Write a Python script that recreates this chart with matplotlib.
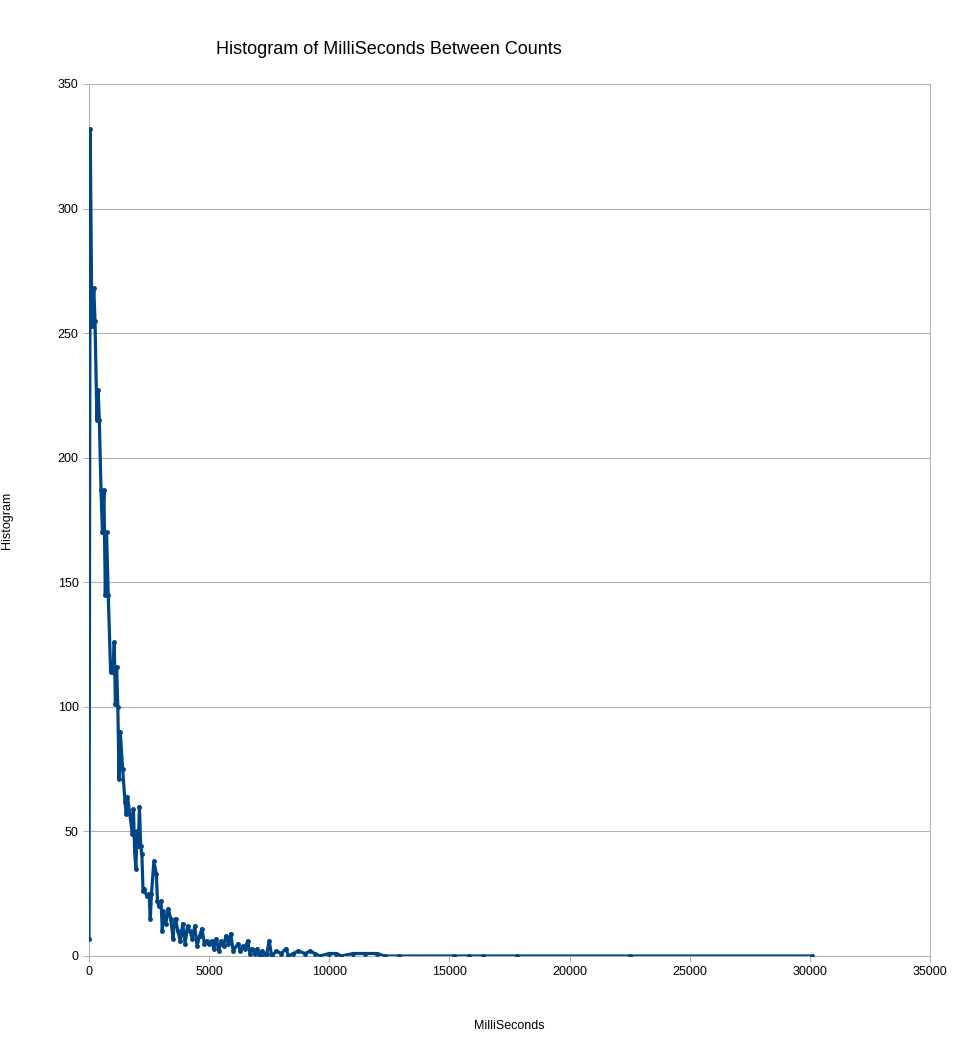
import matplotlib
matplotlib.use("Agg")
import matplotlib.pyplot as plt

ms = [0,50,120,200,250,330,380,430,500,560,620,680,730,800,900,1000,1050,1100,1150,1200,1250,1300,1400,1500,1550,1600,1700,1800,1850,1900,1950,2000,2050,2100,2150,2200,2250,2300,2400,2500,2550,2600,2700,2800,2850,2900,3000,3050,3100,3200,3300,3400,3500,3550,3600,3700,3800,3900,4000,4100,4200,4300,4400,4500,4600,4700,4800,4900,5000,5100,5200,5300,5400,5500,5600,5700,5800,5900,6000,6200,6300,6400,6500,6600,6700,6800,6900,7000,7100,7200,7300,7400,7500,7600,7800,8000,8200,8300,8500,8700,9000,9200,9400,9600,10000,10300,10500,11000,11500,12000,12300,12900,15200,15800,16400,17800,22500,30100]
counts = [7,332,253,268,255,215,227,215,187,170,187,145,170,145,114,114,126,101,116,100,71,90,75,62,57,64,57,49,59,42,35,50,44,60,44,41,26,27,24,25,15,25,38,33,22,20,22,10,18,13,19,15,7,13,15,10,6,13,5,12,10,7,12,4,8,11,5,6,5,6,3,7,2,6,4,8,5,9,2,5,2,4,3,6,1,3,1,3,0,2,1,1,6,0,2,1,3,0,1,2,1,2,1,0,1,1,0,1,1,1,0,0,0,0,0,0,0,0]

fig = plt.figure(figsize=(9.67, 10.39), dpi=100)
ax = fig.add_axes([89/967, 1-956/1039, (930-89)/967, (956-84)/1039])
ax.plot(ms, counts, color="#004586", lw=2.3, marker="o", ms=2.5, zorder=3)
ax.set_xlim(0, 35000)
ax.set_ylim(0, 350)
ax.set_xticks(range(0, 35001, 5000))
ax.set_yticks(range(0, 351, 50))
ax.grid(axis="y", color="#b3b3b3", lw=0.8)
for s in ax.spines.values():
    s.set_color("#b3b3b3")
ax.tick_params(colors="#b3b3b3", labelcolor="black", labelsize=9, length=4)
ax.set_xlabel("MilliSeconds", fontsize=9, labelpad=30, fontfamily="Liberation Sans")
ax.set_ylabel("Histogram", fontsize=9, labelpad=32, fontfamily="Liberation Sans")
for lab in ax.get_xticklabels() + ax.get_yticklabels():
    lab.set_fontfamily("Liberation Sans")
fig.text(389/967, 1-50/1039, "Histogram of MilliSeconds Between Counts", ha="center", va="center",
         fontsize=13, fontfamily="Liberation Sans")
fig.savefig("out.png", dpi=100)
